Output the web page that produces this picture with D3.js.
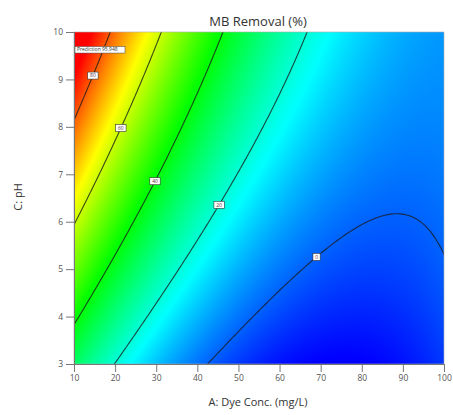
<!DOCTYPE html>
<html><head><meta charset="utf-8">
<script src="https://cdn.jsdelivr.net/npm/d3@7"></script>
<style>
html,body{margin:0;padding:0;background:#fff;}
svg{display:block;font-family:"Open Sans",sans-serif;}
</style></head>
<body>
<svg id="chart" width="453" height="415"></svg>
<script>
// ---- data ----
const chartTitle = "MB Removal (%)";
const xTitle = "A: Dye Conc. (mg/L)";
const yTitle = "C: pH";
const dyeTicks = [10, 20, 30, 40, 50, 60, 70, 80, 90, 100];
const phTicks = [3, 4, 5, 6, 7, 8, 9, 10];
const dyeRange = [10, 100];
const phRange = [3, 10];
// quadratic model in coded units: a = (A-55)/45, c = (pH-6.5)/3.5
const modelTerms = ["Intercept", "A", "C", "AC", "A^2", "C^2"];
const modelCoefs = [13.1, -31.7, 18.5, -13.6, 20.4, -1.2];
const contourLevels = [0, 20, 40, 60, 80];
const labelDye = [69.0, 45.3, 29.7, 21.4, 14.6];
const predictionText = "Prediction  95.948";
const predictionPoint = [10, 9.63];
// response values at which the rainbow passes blue, cyan, green, yellow, red
const colorStops = [-10, 16, 41, 65, 88];
const rainbow = ["#0000ff", "#00ffff", "#00ff00", "#ffff00", "#ff0000"];

// ---- model ----
function model(A, P) {
  const a = (A - 55) / 45, c = (P - 6.5) / 3.5;
  const t = [1, a, c, a * c, a * a, c * c];
  return d3.sum(t, (v, i) => v * modelCoefs[i]);
}

const svg = d3.select("#chart");
const W = 453, H = 415;
const m = {left: 74, right: 9, top: 32, bottom: 51};
const pw = W - m.left - m.right, ph = H - m.top - m.bottom;

const x = d3.scaleLinear().domain(dyeRange).range([m.left, m.left + pw]);
const y = d3.scaleLinear().domain(phRange).range([m.top + ph, m.top]);

const color = d3.scaleLinear()
  .domain(colorStops)
  .range(rainbow).interpolate(d3.interpolateRgb).clamp(true);

// raster fill
const cw = Math.round(pw), chh = Math.round(ph);
const canvas = document.createElement("canvas");
canvas.width = cw; canvas.height = chh;
const ctx = canvas.getContext("2d");
const img = ctx.createImageData(cw, chh);
for (let py = 0; py < chh; py++) {
  for (let px = 0; px < cw; px++) {
    const A = x.invert(m.left + px + 0.5), P = y.invert(m.top + py + 0.5);
    const c = d3.rgb(color(model(A, P)));
    const k = (py * cw + px) * 4;
    img.data[k] = c.r; img.data[k + 1] = c.g; img.data[k + 2] = c.b; img.data[k + 3] = 255;
  }
}
ctx.putImageData(img, 0, 0);

svg.append("defs").append("clipPath").attr("id", "plotclip")
  .append("rect").attr("x", m.left).attr("y", m.top).attr("width", pw).attr("height", ph);

svg.append("image").attr("x", m.left).attr("y", m.top).attr("width", pw).attr("height", ph)
  .attr("preserveAspectRatio", "none")
  .attr("href", canvas.toDataURL());

// contour lines on an extended grid (clipped)
const nx = 240, ny = 200;
const A0 = 2, A1 = 108, P0 = 2.4, P1 = 10.6;
const sx = (A1 - A0) / (nx - 1), sy = (P1 - P0) / (ny - 1);
const grid = new Array(nx * ny);
for (let j = 0; j < ny; j++) for (let i = 0; i < nx; i++)
  grid[j * nx + i] = model(A0 + i * sx, P0 + j * sy);
const contours = d3.contours().size([nx, ny]).thresholds(contourLevels)(grid);
const proj = d3.geoTransform({
  point(gx, gy) { this.stream.point(x(A0 + (gx - 0.5) * sx), y(P0 + (gy - 0.5) * sy)); }
});
const path = d3.geoPath(proj);
svg.append("g").attr("clip-path", "url(#plotclip)")
  .selectAll("path").data(contours).join("path")
  .attr("d", path).attr("fill", "none")
  .attr("stroke", "#1a1a1a").attr("stroke-opacity", 0.8).attr("stroke-width", 1.1);

// contour labels
function solvePH(A, level) {
  let lo = phRange[0], hi = phRange[1];
  for (let it = 0; it < 50; it++) {
    const mid = (lo + hi) / 2;
    if (model(A, mid) < level) lo = mid; else hi = mid;
  }
  return (lo + hi) / 2;
}
const lab = svg.append("g");
contourLevels.forEach((lv, i) => {
  const A = labelDye[i], P = solvePH(A, lv);
  const cx = x(A), cy = y(P);
  const txt = String(lv);
  const bw = 4 + txt.length * 3.2, bh = 7;
  const g = lab.append("g");
  g.append("rect").attr("x", cx - bw / 2).attr("y", cy - bh / 2).attr("width", bw).attr("height", bh)
    .attr("fill", "#fff").attr("stroke", "#333").attr("stroke-width", 0.6);
  g.append("text").attr("x", cx).attr("y", cy + 1.8).attr("text-anchor", "middle")
    .attr("font-size", 5).attr("fill", "#553333").text(txt);
});

// prediction flag
const pg = svg.append("g");
const px0 = x(predictionPoint[0]) + 1, py0 = y(predictionPoint[1]);
pg.append("rect").attr("x", px0).attr("y", py0 - 3).attr("width", 50).attr("height", 6.5)
  .attr("fill", "#fff").attr("stroke", "#444").attr("stroke-width", 0.5);
pg.append("text").attr("x", px0 + 2).attr("y", py0 + 1.8).attr("font-size", 5).attr("fill", "#333")
  .text(predictionText);

// frame
svg.append("rect").attr("x", m.left).attr("y", m.top).attr("width", pw).attr("height", ph)
  .attr("fill", "none").attr("stroke", "#aaa").attr("stroke-width", 0.6);

// axes
const xa = svg.append("g").attr("transform", `translate(0,${m.top + ph})`)
  .call(d3.axisBottom(x).tickValues(dyeTicks).tickFormat(d3.format("d")).tickSize(8).tickPadding(3).tickSizeOuter(0));
const ya = svg.append("g").attr("transform", `translate(${m.left},0)`)
  .call(d3.axisLeft(y).tickValues(phTicks).tickFormat(d3.format("d")).tickSize(8).tickPadding(3).tickSizeOuter(0));
[xa, ya].forEach(a => {
  a.select(".domain").attr("stroke", "#777");
  a.selectAll(".tick line").attr("stroke", "#777");
  a.selectAll(".tick text").attr("fill", "#555").attr("font-size", 8.5).attr("font-family", "Open Sans, sans-serif");
});

// titles
svg.append("text").attr("x", 258).attr("y", 26).attr("text-anchor", "middle")
  .attr("font-size", 13).attr("fill", "#333").text(chartTitle);
svg.append("text").attr("x", 258).attr("y", 406).attr("text-anchor", "middle")
  .attr("font-size", 11).attr("fill", "#333").text(xTitle);
svg.append("text").attr("transform", "translate(22,197) rotate(-90)").attr("text-anchor", "middle")
  .attr("font-size", 11).attr("fill", "#333").text(yTitle);
</script>
</body></html>
